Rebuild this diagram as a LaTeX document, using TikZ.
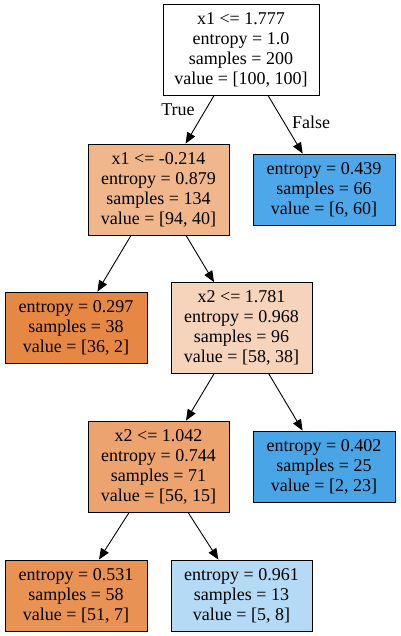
\documentclass[tikz,border=0pt]{standalone}
\usepackage{fontspec}
\setmainfont{Liberation Serif}
\usetikzlibrary{arrows.meta}
% fill colours, orange = class 0, blue = class 1
\definecolor{cRoot}{RGB}{255,255,255}
\definecolor{cA}{RGB}{240,183,141}
\definecolor{cB}{RGB}{77,167,232}
\definecolor{cC}{RGB}{230,136,68}
\definecolor{cD}{RGB}{246,211,187}
\definecolor{cE}{RGB}{236,163,110}
\definecolor{cF}{RGB}{74,165,231}
\definecolor{cG}{RGB}{232,146,84}
\definecolor{cH}{RGB}{181,218,245}

\begin{document}
\begin{tikzpicture}[x=1pt,y=-1pt,
  tnode/.style={draw,line width=0.85pt,align=center,inner sep=0pt,
    font=\fontsize{18}{20}\selectfont,minimum width=141pt},
  splitnode/.style={tnode,minimum height=91pt},
  leafnode/.style={tnode,minimum height=71pt},
  branch/.style={-{Triangle[length=11pt,width=9pt]},line width=0.9pt},
  lab/.style={font=\fontsize{18}{20}\selectfont}]
\useasboundingbox (0,0) rectangle (400,636);
% depth 0
\node[splitnode,fill=cRoot,minimum width=156pt] (root) at (241,50)
  {x1 <= 1.777\\entropy = 1.0\\samples = 200\\value = [100, 100]};
% depth 1
\node[splitnode,fill=cA] (nA) at (158.5,189.5)
  {x1 <= -0.214\\entropy = 0.879\\samples = 134\\value = [94, 40]};
\node[leafnode,fill=cB,minimum width=142pt] (nB) at (324,189.5)
  {entropy = 0.439\\samples = 66\\value = [6, 60]};
% depth 2
\node[leafnode,fill=cC,minimum width=142pt] (nC) at (76,327.5)
  {entropy = 0.297\\samples = 38\\value = [36, 2]};
\node[splitnode,fill=cD] (nD) at (241.5,328)
  {x2 <= 1.781\\entropy = 0.968\\samples = 96\\value = [58, 38]};
% depth 3
\node[splitnode,fill=cE] (nE) at (158.5,466.5)
  {x2 <= 1.042\\entropy = 0.744\\samples = 71\\value = [56, 15]};
\node[leafnode,fill=cF,minimum width=142pt] (nF) at (324,466.5)
  {entropy = 0.402\\samples = 25\\value = [2, 23]};
% depth 4
\node[leafnode,fill=cG,minimum width=142pt] (nG) at (76,595.5)
  {entropy = 0.531\\samples = 58\\value = [51, 7]};
\node[leafnode,fill=cH] (nH) at (241.5,595.5)
  {entropy = 0.961\\samples = 13\\value = [5, 8]};
% edges
\foreach \a/\b in {root/nA,root/nB,nA/nC,nA/nD,nD/nE,nD/nF,nE/nG,nE/nH}
  \draw[branch] (\a) -- (\b);
\node[lab] (ltrue) at (178,110) {True};
\node[lab] (lfalse) at (311,122) {False};
\end{tikzpicture}
\end{document}
